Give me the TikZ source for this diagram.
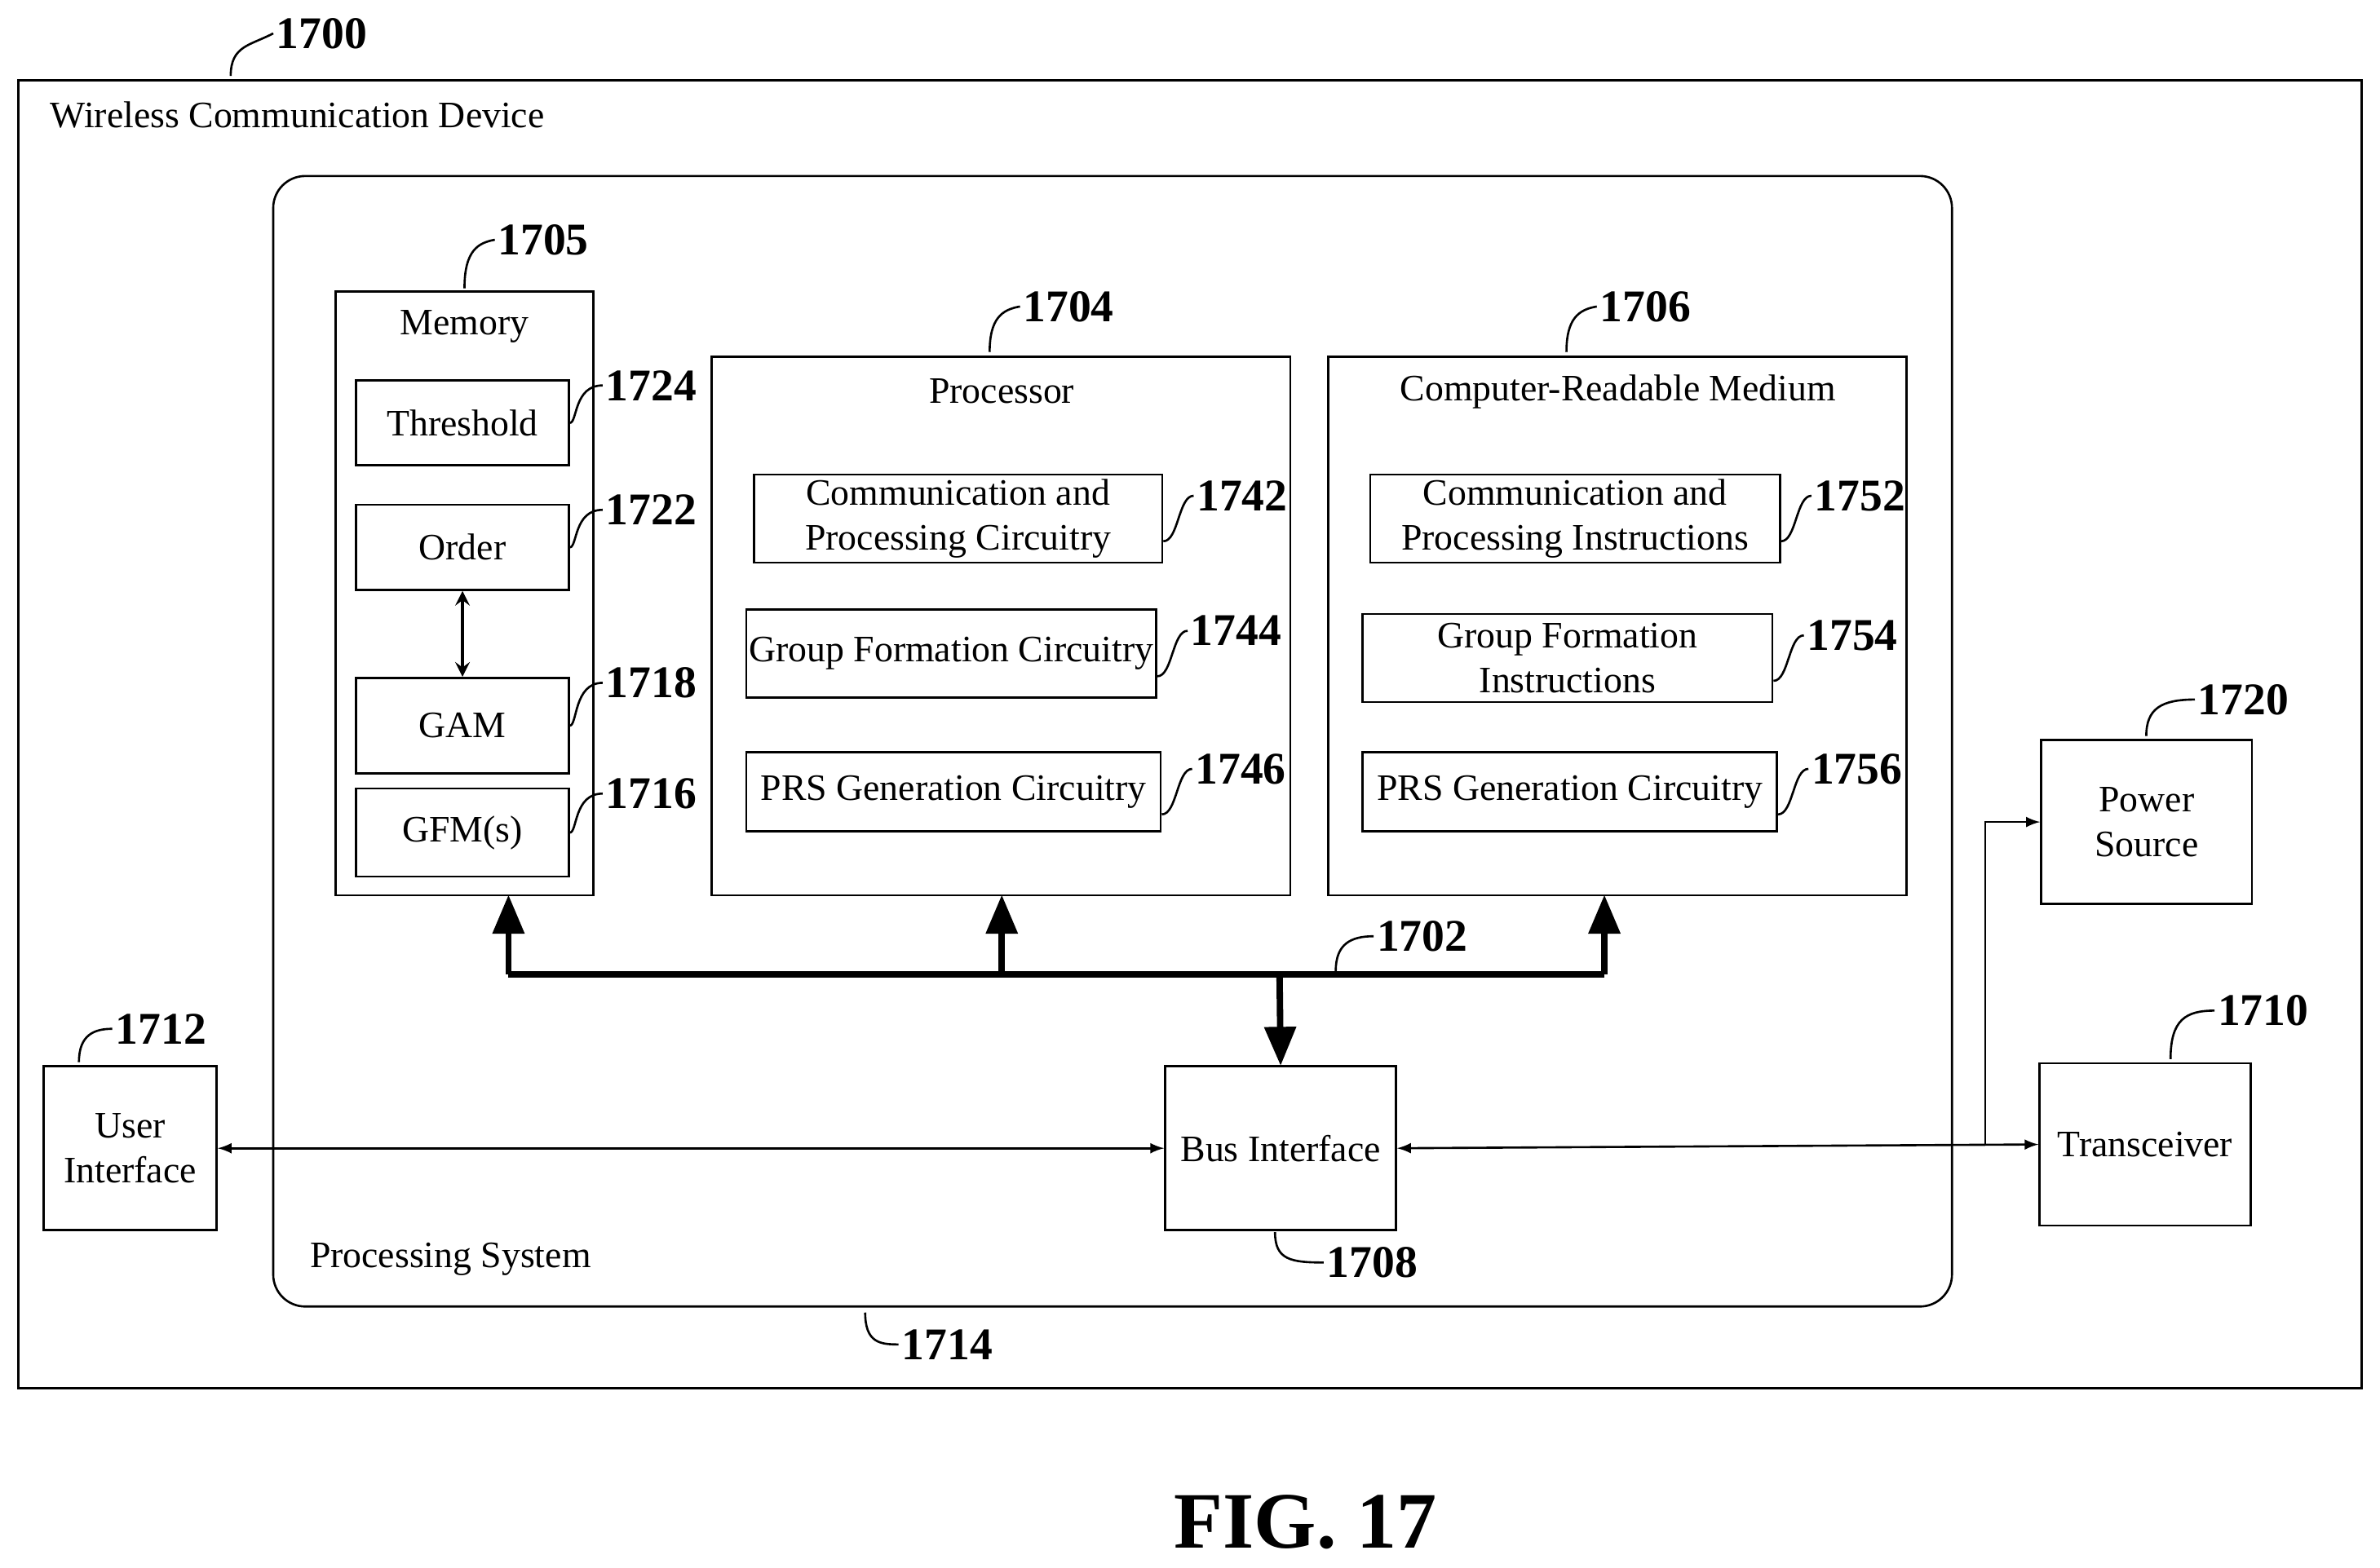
\documentclass[tikz,border=0pt]{standalone}
\usepackage{fontspec}
\setmainfont{Liberation Serif}
\usetikzlibrary{arrows}
\usetikzlibrary{positioning}
\tikzset{box/.style = {draw, thick, inner sep = 0, align = center, font = \fontsize{14}{17}\selectfont}}
\tikzset{lbl/.style = {font = \fontsize{14}{17}\selectfont}}
\tikzset{num/.style = {font = \fontsize{17}{20}\selectfont\bfseries, inner sep = 1pt}}
\tikzset{lead/.style = {thick}}
\tikzset{conn/.style = {thick, latex-latex}}
\tikzset{busline/.style = {line width = 2.4pt}}
\begin{document}
\begin{tikzpicture}[x=0.02cm, y=-0.02cm]
    \useasboundingbox (0, 0) rectangle (1568, 1033);
    % outer device
    \draw [thick] (12, 53) rectangle (1556, 915);
    \node [lbl, anchor=west] (wcd) at (27, 76) {Wireless Communication Device};
    \node [num, anchor=west] (n1700) at (180, 22) {1700};
    \draw [lead] (152, 50) .. controls (152, 30) and (165, 30) .. (n1700.west);
    % processing system
    \draw [thick, rounded corners=12] (180, 116) rectangle (1286, 861);
    \node [lbl, anchor=west] (ps) at (198, 830) {Processing System};
    \node [num, anchor=west] (n1714) at (592, 886) {1714};
    \draw [lead] (570, 865) .. controls (570, 885) and (580, 886) .. (n1714.west);
    % memory
    \draw [thick] (221, 192) rectangle (391, 590);
    \node [lbl] (mem) at (306, 215) {Memory};
    \node [num, anchor=west] (n1705) at (326, 158) {1705};
    \draw [lead] (306, 190) .. controls (306, 165) and (315, 160) .. (n1705.west);
    \foreach \y/\h/\t/\n in {250/56/Threshold/1724, 332/56/Order/1722, 446/63/GAM/1718, 519/58/GFM(s)/1716}{
      \node [box, minimum width=140*0.02cm, minimum height=\h*0.02cm, anchor=north west] (m\n) at (234, \y) {\t};
      \node [num, anchor=west] (n\n) at (397, \y+4) {\n};
      \draw [lead] (m\n.east) .. controls ++(5, 0) and (378, \y+4) .. (n\n.west);
    }
    \draw [line width=1.4pt, >=stealth, stealth-stealth] (m1722.south) -- (m1718.north);
    % processor
    \draw [thick] (469, 235) rectangle (850, 590);
    \node [lbl] (proc) at (660, 258) {Processor};
    \node [num, anchor=west] (n1704) at (672, 202) {1704};
    \draw [lead] (652, 232) .. controls (652, 210) and (660, 204) .. (n1704.west);
    \node [box, minimum width=269*0.02cm, minimum height=58*0.02cm, anchor=north west] (pc1) at (496, 312) {Communication and\\Processing Circuitry};
    \node [box, minimum width=270*0.02cm, minimum height=58*0.02cm, anchor=north west] (pc2) at (491, 401) {Group Formation Circuitry};
    \node [box, minimum width=273*0.02cm, minimum height=52*0.02cm, anchor=north west] (pc3) at (491, 495) {PRS Generation Circuitry};
    % computer-readable medium
    \draw [thick] (875, 235) rectangle (1256, 590);
    \node [lbl] (crm) at (1066, 258) {Computer-Readable Medium};
    \node [num, anchor=west] (n1706) at (1052, 202) {1706};
    \draw [lead] (1032, 232) .. controls (1032, 210) and (1040, 204) .. (n1706.west);
    \node [box, minimum width=270*0.02cm, minimum height=58*0.02cm, anchor=north west] (cm1) at (902, 312) {Communication and\\Processing Instructions};
    \node [box, minimum width=270*0.02cm, minimum height=58*0.02cm, anchor=north west] (cm2) at (897, 404) {Group Formation\\Instructions};
    \node [box, minimum width=273*0.02cm, minimum height=52*0.02cm, anchor=north west] (cm3) at (897, 495) {PRS Generation Circuitry};
    \foreach \b/\n in {pc1/1742, pc2/1744, pc3/1746, cm1/1752, cm2/1754, cm3/1756}{
      \node [num, anchor=west, right=0.4cm of \b.east, yshift=0.3cm] (n\n) {\n};
      \draw [lead] ([yshift=-0.3cm]\b.east) .. controls ++(10, 0) and ([xshift=-0.2cm]n\n.west) .. (n\n.west);
    }
    % bus interface and periphery
    \node [box, minimum width=152*0.02cm, minimum height=108*0.02cm, anchor=north west] (bus) at (767, 702) {Bus Interface};
    \node [num, anchor=west] (n1708) at (872, 832) {1708};
    \draw [lead] (840, 812) .. controls (840, 830) and (850, 832) .. (n1708.west);
    \node [box, minimum width=114*0.02cm, minimum height=108*0.02cm, anchor=north west] (ui) at (28, 702) {User\\Interface};
    \node [num, anchor=west] (n1712) at (74, 678) {1712};
    \draw [lead] (52, 700) .. controls (52, 682) and (62, 678) .. (n1712.west);
    \node [box, minimum width=139*0.02cm, minimum height=107*0.02cm, anchor=north west] (trx) at (1343, 700) {Transceiver};
    \node [num, anchor=west] (n1710) at (1459, 666) {1710};
    \draw [lead] (1430, 698) .. controls (1430, 672) and (1440, 666) .. (n1710.west);
    \node [box, minimum width=139*0.02cm, minimum height=108*0.02cm, anchor=north west] (pwr) at (1344, 487) {Power\\Source};
    \node [num, anchor=west] (n1720) at (1446, 461) {1720};
    \draw [lead] (1414, 485) .. controls (1414, 467) and (1424, 461) .. (n1720.west);
    % bus
    \coordinate (bl) at (335, 642);
    \coordinate (br) at (1057, 642);
    \draw [busline, -triangle 45] (bl) -- (335, 590);
    \draw [busline] (bl) -- (br);
    \draw [busline, -triangle 45] (br) -- (1057, 590);
    \draw [busline, -triangle 45] (660, 642) -- (660, 590);
    \draw [busline, -triangle 45] (843, 642) -- (bus.north);
    \node [num, anchor=west] (n1702) at (905, 617) {1702};
    \draw [lead] (880, 640) .. controls (880, 622) and (890, 617) .. (n1702.west);
    % links
    \draw [conn] (ui.east) -- (bus.west);
    \draw [conn] (bus.east) -- (trx.west);
    \coordinate (split) at (1308, 754);
    \draw [thick, -latex] (split) |- (pwr.west);
    % caption
    \node [font=\fontsize{30}{34}\selectfont\bfseries] (fig) at (860, 1003) {FIG. 17};
\end{tikzpicture}
\end{document}
